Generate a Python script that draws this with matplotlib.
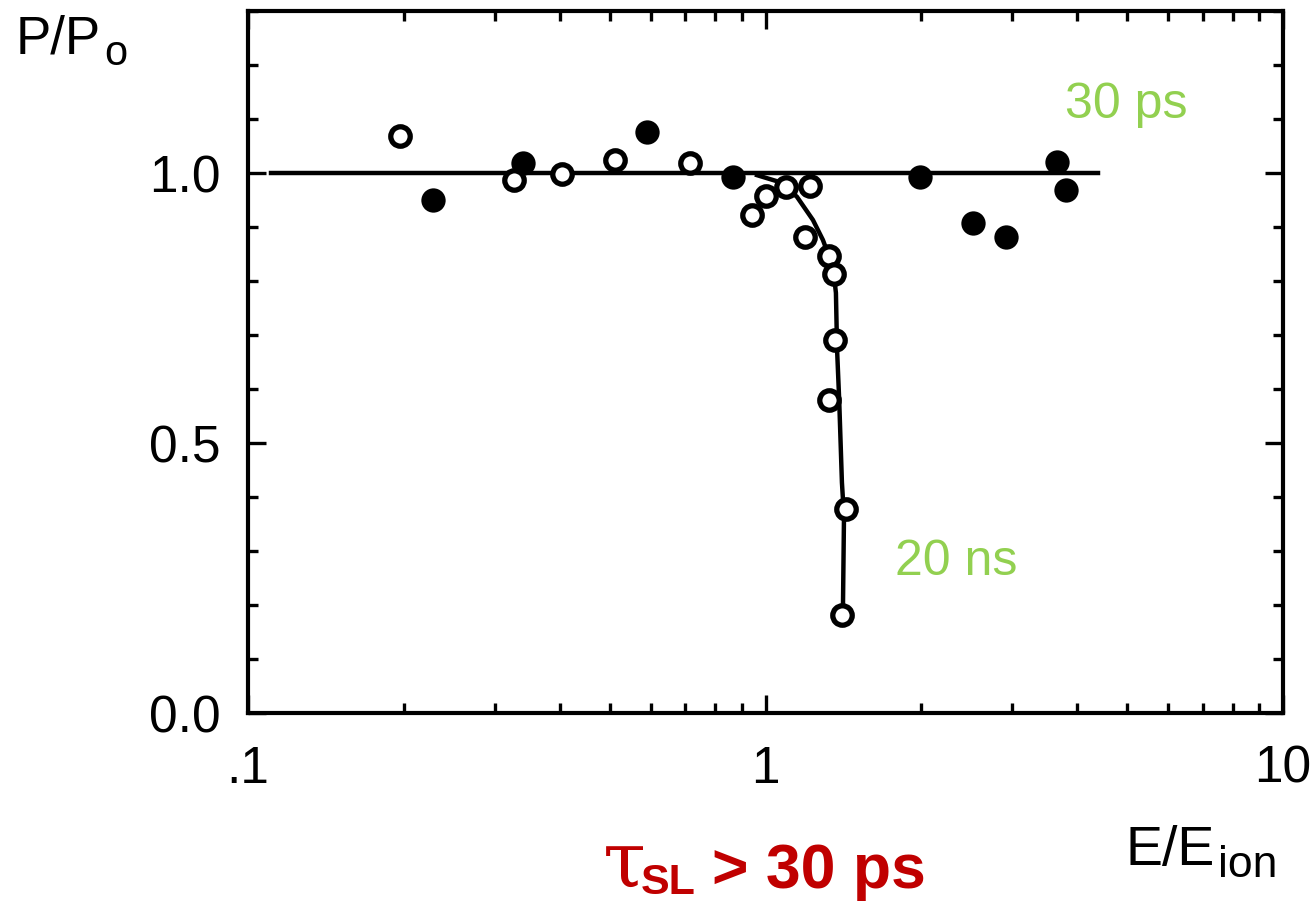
import matplotlib
matplotlib.use("Agg")
import matplotlib.pyplot as plt
from matplotlib.ticker import MultipleLocator, LogLocator, NullFormatter

plt.rcParams['font.family'] = ['Liberation Sans', 'DejaVu Sans']

# open circles (20 ns data)
open_x = [0.197, 0.327, 0.404, 0.512, 0.714, 0.942, 1.002, 1.095, 1.219,
          1.192, 1.327, 1.356, 1.362, 1.327, 1.431, 1.405]
open_y = [1.068, 0.987, 0.998, 1.024, 1.018, 0.922, 0.957, 0.974, 0.976,
          0.882, 0.847, 0.813, 0.691, 0.580, 0.377, 0.181]

# filled circles (30 ps data)
filled_x = [0.228, 0.340, 0.590, 0.865, 1.989, 2.518, 2.915, 3.66, 3.81]
filled_y = [0.950, 1.018, 1.076, 0.993, 0.993, 0.908, 0.882, 1.020, 0.969]

# guide lines
flat_x = [0.111, 4.39]
flat_y = [1.0, 1.0]
curve_x = [0.963, 1.067, 1.150, 1.235, 1.291, 1.350, 1.368, 1.375, 1.388,
           1.405, 1.418, 1.411]
curve_y = [0.996, 0.983, 0.956, 0.913, 0.876, 0.826, 0.778, 0.673, 0.580,
           0.427, 0.364, 0.183]

x_ticks = [0.1, 1, 10]
x_labels = ['.1', '1', '10']
y_ticks = [0.0, 0.5, 1.0]
y_labels = ['0.0', '0.5', '1.0']

W, H = 1314, 904
fig = plt.figure(figsize=(W / 100, H / 100), dpi=100)
ax = fig.add_axes([248 / W, 1 - 714 / H, (1283 - 248) / W, (714 - 12) / H])

ax.plot(flat_x, flat_y, color='black', lw=3.2, zorder=2)
ax.plot(curve_x, curve_y, color='black', lw=3.2, zorder=2)
ax.plot(filled_x, filled_y, 'o', color='black', ms=16, mew=1.5, zorder=3)
ax.plot(open_x, open_y, 'o', mfc='white', mec='black', ms=14, mew=3.8, zorder=4)

ax.set_xscale('log')
ax.set_xlim(0.1, 10)
ax.set_ylim(0, 1.3)
ax.set_xticks(x_ticks)
ax.set_xticklabels(x_labels)
ax.xaxis.set_minor_locator(LogLocator(base=10, subs=range(2, 10)))
ax.xaxis.set_minor_formatter(NullFormatter())
ax.set_yticks(y_ticks)
ax.set_yticklabels(y_labels)
ax.yaxis.set_minor_locator(MultipleLocator(0.1))

ax.tick_params(which='both', direction='in', top=True, right=True,
               labelsize=37, width=2.4)
ax.tick_params(which='major', length=13)
ax.tick_params(which='minor', length=7)
ax.tick_params(axis='y', pad=20)
ax.tick_params(axis='x', pad=22)
for s in ax.spines.values():
    s.set_linewidth(3)

def px(x, y):
    return x / W, 1 - y / H

# axis labels
fig.text(*px(16, 53), 'P/P', fontsize=38, va='baseline', ha='left')
fig.text(*px(104, 65), 'o', fontsize=30, va='baseline', ha='left')
fig.text(*px(1125, 865), 'E/E', fontsize=40, va='baseline', ha='left')
fig.text(*px(1218, 877), 'ion', fontsize=32, va='baseline', ha='left')

# annotations
green = '#92D050'
fig.text(*px(1065, 118), '30 ps', fontsize=36, color=green, va='baseline')
fig.text(*px(895, 575), '20 ns', fontsize=36, color=green, va='baseline')

red = '#C00000'
fig.text(*px(603, 888), 'τ', fontsize=56, color=red, va='baseline',
         family=['DejaVu Serif'])
fig.text(*px(641, 894), 'SL', fontsize=31, color=red, va='baseline',
         fontweight='bold')
fig.text(*px(712, 888), '> 30 ps', fontsize=45, color=red, va='baseline',
         fontweight='bold')

fig.savefig('out.png', dpi=100)
